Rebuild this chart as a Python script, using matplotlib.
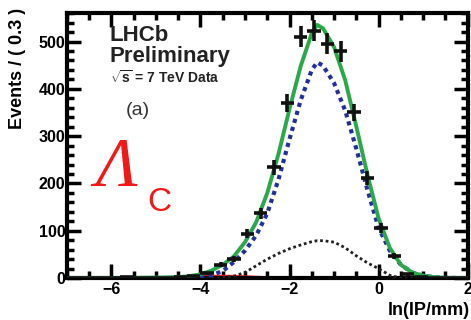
import matplotlib
matplotlib.use('Agg')
import matplotlib.pyplot as plt
from matplotlib.ticker import MultipleLocator
import numpy as np

matplotlib.rc('font', family=['Liberation Sans', 'DejaVu Sans'], weight='bold', size=10)
matplotlib.rc('mathtext', fontset='custom', rm='Liberation Sans', bf='Liberation Sans:bold')

# binned data, bin width 0.3
bin_centers = [-6.85, -6.55, -6.25, -5.95, -5.65, -5.35, -5.05, -4.75, -4.45, -4.15,
               -3.85, -3.55, -3.25, -2.95, -2.65, -2.35, -2.05, -1.75, -1.45, -1.15,
               -0.85, -0.55, -0.25, 0.05, 0.35, 0.65, 0.95, 1.25, 1.55, 1.85]
counts = [0, 1, 0, 1, 2, 1, 0, 1, 3, 5,
          10, 28, 40, 94, 137, 234, 370, 510, 523, 495,
          479, 350, 212, 106, 47, 8, 3, 1, 0, 0]

# fit components sampled along ln(IP/mm)
curve_x = [-7.0, -6.5, -6.0, -5.5, -5.0, -4.5, -4.25, -4.0, -3.75, -3.5, -3.25, -3.0,
           -2.75, -2.5, -2.25, -2.0, -1.75, -1.5, -1.38, -1.25, -1.0, -0.75, -0.5,
           -0.25, 0.0, 0.25, 0.5, 0.75, 1.0, 1.25, 1.5, 2.0]
total_fit = [0, 0, 0, 0.5, 1, 2, 4, 8, 16, 28, 46, 76,
             118, 180, 262, 358, 448, 518, 535, 528, 488, 418, 320,
             218, 126, 64, 28, 12, 5, 2, 0.5, 0]
prompt_fit = [0, 0, 0, 0, 0, 0, 1, 3, 6, 15, 34, 58,
              90, 137, 208, 294, 376, 440, 456, 449, 412, 354, 273,
              186, 106, 58, 28, 12, 5, 2, 0.5, 0]
secondary_fit = [0, 0, 0, 0, 0, 0, 0, 0, 0, 1, 4, 12,
                 26, 40, 52, 62, 70, 77, 79, 79, 76, 64, 47,
                 32, 20, 6, 0, 0, 0, 0, 0, 0]
background_fit = [0, 0, 0, 0, 1, 2, 3, 4, 4, 4, 4, 3,
                  2, 1, 0.5, 0, 0, 0, 0, 0, 0, 0, 0,
                  0, 0, 0, 0, 0, 0, 0, 0, 0]

fig = plt.figure(figsize=(4.71, 3.2), dpi=100)
ax = fig.add_axes([0.142, 0.131, 0.851, 0.828])

ax.plot(curve_x, background_fit, color='#e8201c', lw=2, zorder=2)
ax.plot(curve_x, secondary_fit, color='#222222', lw=2, ls=(0, (1, 1)), zorder=3)
ax.plot(curve_x, prompt_fit, color='#24309a', lw=3, ls=(0, (1, 1)), zorder=3)
ax.plot(curve_x, total_fit, color='#2aa84a', lw=2.8, zorder=4)

ax.errorbar(bin_centers, counts, xerr=0.15, yerr=np.sqrt(counts), fmt='none',
            ecolor='#111111', elinewidth=2.6, capsize=0, zorder=5)

ax.set_xlim(-7, 2)
ax.set_ylim(0, 560)
ax.xaxis.set_major_locator(MultipleLocator(2))
ax.xaxis.set_minor_locator(MultipleLocator(0.5))
ax.yaxis.set_major_locator(MultipleLocator(100))
ax.yaxis.set_minor_locator(MultipleLocator(20))
ax.tick_params(which='both', direction='in', top=True, right=True, width=2.5)
ax.tick_params(which='major', length=10, labelsize=11.5, pad=3)
ax.tick_params(which='minor', length=5)
ax.tick_params(axis='y', pad=1)
for s in ax.spines.values():
    s.set_linewidth(3)

fig.text(18 / 471, 1 - 8 / 320, 'Events / ( 0.3 )', rotation=90, ha='center', va='top',
         fontsize=13, fontweight='bold')
fig.text(470 / 471, 1 - 302 / 320, 'ln(IP/mm)', ha='right', va='top',
         fontsize=13, fontweight='bold')

ax.text(0.107, 0.955, 'LHCb', transform=ax.transAxes, fontsize=16, fontweight='bold',
        color='#222222', va='top')
ax.text(0.107, 0.875, 'Preliminary', transform=ax.transAxes, fontsize=16, fontweight='bold',
        color='#222222', va='top')
ax.text(0.107, 0.79, r'$\sqrt{\mathbf{s}}$ = 7 TeV Data', transform=ax.transAxes,
        fontsize=10, fontweight='bold', color='#222222', va='top')
ax.text(0.147, 0.665, '(a)', transform=ax.transAxes, fontsize=14, fontweight='normal',
        color='#333333', va='top')
ax.text(0.072, 0.53, u'\u039b', transform=ax.transAxes, fontsize=50, fontstyle='italic',
        family='Liberation Serif', fontweight='normal', color='#f01818', va='top')
ax.text(0.2, 0.345, 'C', transform=ax.transAxes, fontsize=24, fontweight='normal',
        color='#f01818', va='top')

fig.savefig('out.png', dpi=100)
